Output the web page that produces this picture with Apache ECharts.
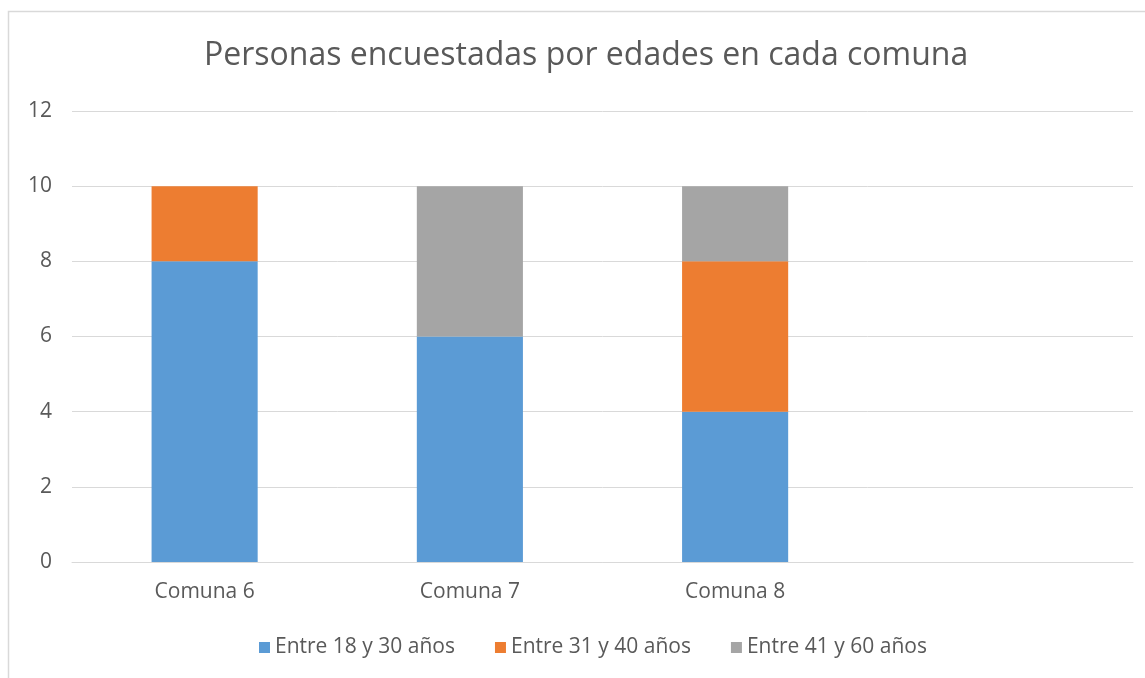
<!DOCTYPE html>
<html>
<head>
<meta charset="utf-8">
<script src="https://cdn.jsdelivr.net/npm/echarts@6/dist/echarts.min.js"></script>
<style>
html,body{margin:0;padding:0;background:#fff;}
#c{width:1145px;height:678px;}
</style>
</head>
<body>
<div id="c"></div>
<script>
const categories = ['Comuna 6', 'Comuna 7', 'Comuna 8', ''];
const seriesNames = ['Entre 18 y 30 años', 'Entre 31 y 40 años', 'Entre 41 y 60 años'];
const s18to30 = [8, 6, 4, null];
const s31to40 = [2, 0, 4, null];
const s41to60 = [0, 4, 2, null];
const yTicks = [0, 2, 4, 6, 8, 10, 12];
const colors = ['#5B9BD5', '#ED7D31', '#A5A5A5'];

const FONT = '"Open Sans", "Noto Sans", sans-serif';
const chart = echarts.init(document.getElementById('c'), null, {renderer: 'canvas'});
const values = [s18to30, s31to40, s41to60];
chart.setOption({
  animation: false,
  color: colors,
  textStyle: {fontFamily: FONT},
  title: {
    text: 'Personas encuestadas por edades en cada comuna',
    left: 199, top: 35,
    textStyle: {fontFamily: FONT, fontSize: 32, fontWeight: 'normal', color: '#595959'}
  },
  graphic: [{
    type: 'rect', silent: true, z: -1,
    shape: {x: 8.5, y: 11.5, width: 1200, height: 700},
    style: {fill: 'none', stroke: '#d9d9d9', lineWidth: 1.5}
  }],
  legend: {
    data: seriesNames,
    left: 254, top: 632,
    itemWidth: 11, itemHeight: 11, itemGap: 40,
    icon: 'rect',
    textStyle: {fontFamily: FONT, fontSize: 21, color: '#595959'}
  },
  grid: {left: 72, right: 12, top: 111, bottom: 116, containLabel: false},
  xAxis: {
    type: 'category',
    data: categories,
    axisLine: {show: true, lineStyle: {color: '#d9d9d9', width: 1}},
    axisTick: {show: false},
    axisLabel: {fontFamily: FONT, fontSize: 21, color: '#595959', margin: 20}
  },
  yAxis: {
    type: 'value',
    min: yTicks[0], max: yTicks[yTicks.length - 1], interval: 2,
    axisLine: {show: false},
    axisTick: {show: false},
    axisLabel: {fontFamily: FONT, fontSize: 21, color: '#595959', margin: 20},
    splitLine: {lineStyle: {color: '#d9d9d9', width: 1}}
  },
  series: seriesNames.map((n, i) => ({
    name: n,
    type: 'bar',
    stack: 'total',
    data: values[i],
    barWidth: '40%',
    itemStyle: {color: colors[i]}
  }))
});
</script>
</body>
</html>
